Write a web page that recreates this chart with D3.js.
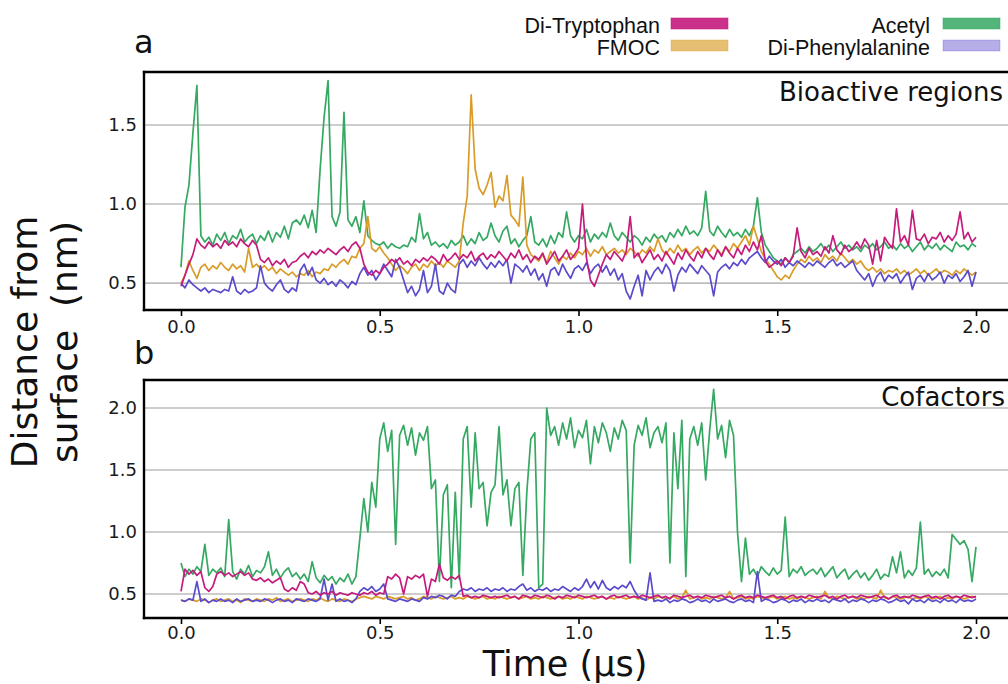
<!DOCTYPE html>
<html>
<head>
<meta charset="utf-8">
<script src="https://cdn.jsdelivr.net/npm/d3@7"></script>
<style>
  body { margin: 0; background: #fff; }
  svg { display: block; }
</style>
</head>
<body>
<svg id="chart" width="1008" height="684"></svg>
<script>
// Sampling interval of the trajectories (µs)
const timeStep = 0.01;

// ---- Panel a: bioactive regions, distance from surface (nm) ----
const bioAcetyl = [
  0.60,0.98,1.12,1.45,1.75,0.80,0.76,0.79,0.74,0.81,
  0.77,0.82,0.75,0.80,0.78,0.84,0.76,0.79,0.81,0.75,
  0.80,0.77,0.83,0.76,0.82,0.79,0.86,0.78,0.88,0.90,
  0.87,0.93,0.85,0.96,0.82,1.22,1.55,1.78,0.92,0.86,
  0.95,1.58,0.90,0.86,0.92,0.82,1.02,0.80,0.77,0.75,
  0.74,0.76,0.72,0.75,0.73,0.72,0.74,0.73,0.79,0.76,
  0.94,0.78,0.82,0.74,0.76,0.73,0.75,0.72,0.77,0.74,
  0.76,0.80,0.74,0.78,0.75,0.82,0.77,0.79,0.88,0.80,
  0.76,0.83,0.86,0.75,0.78,0.73,0.77,0.80,0.92,0.76,
  0.74,0.78,0.73,0.80,0.75,0.82,0.79,0.95,0.80,0.76,
  0.80,0.78,0.84,0.76,0.81,0.78,0.82,0.79,0.88,0.80,
  0.77,0.82,0.79,0.76,0.80,0.78,0.74,0.79,0.76,0.81,
  0.78,0.80,0.76,0.82,0.79,0.84,0.80,0.86,0.81,0.83,
  0.80,0.85,1.08,0.83,0.80,0.86,0.82,0.79,0.84,0.80,
  0.82,0.79,0.84,0.80,0.86,1.04,0.82,0.74,0.70,0.66,
  0.64,0.62,0.66,0.63,0.68,0.70,0.72,0.69,0.73,0.70,
  0.72,0.75,0.71,0.74,0.70,0.73,0.76,0.72,0.74,0.71,
  0.73,0.70,0.74,0.72,0.75,0.71,0.73,0.76,0.72,0.74,
  0.71,0.75,0.72,0.74,0.70,0.73,0.76,0.71,0.74,0.72,
  0.75,0.71,0.74,0.72,0.70,0.76,0.73,0.74,0.71,0.75,0.73
];
const bioFmoc = [
  0.50,0.55,0.64,0.58,0.53,0.60,0.62,0.58,0.61,0.59,
  0.63,0.60,0.58,0.62,0.59,0.61,0.57,0.72,0.60,0.62,
  0.59,0.61,0.58,0.60,0.56,0.59,0.57,0.55,0.57,0.54,
  0.56,0.55,0.58,0.54,0.57,0.56,0.59,0.58,0.62,0.60,
  0.63,0.65,0.62,0.67,0.66,0.72,0.75,0.92,0.72,0.70,
  0.73,0.69,0.66,0.62,0.58,0.61,0.59,0.56,0.60,0.62,
  0.58,0.62,0.60,0.64,0.61,0.63,0.60,0.64,0.62,0.60,
  0.64,0.88,1.05,1.69,1.22,1.10,1.06,1.12,1.20,0.98,
  1.05,1.02,1.18,0.93,0.90,0.86,1.17,0.74,0.68,0.66,
  0.64,0.68,0.63,0.70,0.66,0.62,0.67,0.65,0.69,0.66,
  0.70,0.68,0.72,0.67,0.71,0.69,0.73,0.68,0.70,0.72,
  0.69,0.71,0.68,0.72,0.70,0.67,0.71,0.69,0.73,0.70,
  0.78,0.71,0.68,0.72,0.69,0.74,0.70,0.72,0.68,0.71,
  0.73,0.69,0.72,0.70,0.74,0.71,0.68,0.73,0.70,0.75,
  0.72,0.76,0.80,0.74,0.86,0.78,0.70,0.65,0.62,0.58,
  0.54,0.52,0.55,0.53,0.58,0.62,0.65,0.63,0.67,0.64,
  0.66,0.63,0.68,0.65,0.67,0.64,0.69,0.66,0.63,0.65,
  0.62,0.64,0.60,0.58,0.60,0.57,0.59,0.56,0.58,0.57,
  0.59,0.56,0.58,0.55,0.57,0.59,0.56,0.58,0.55,0.57,
  0.59,0.56,0.58,0.57,0.55,0.58,0.56,0.59,0.57,0.55,0.57
];
const bioPhe = [
  0.50,0.47,0.52,0.49,0.47,0.45,0.47,0.44,0.46,0.45,
  0.44,0.46,0.45,0.54,0.45,0.43,0.46,0.44,0.45,0.47,
  0.61,0.50,0.47,0.45,0.49,0.52,0.46,0.44,0.47,0.45,
  0.58,0.62,0.55,0.60,0.52,0.50,0.53,0.49,0.51,0.48,
  0.52,0.50,0.47,0.51,0.49,0.56,0.60,0.55,0.58,0.52,
  0.56,0.62,0.58,0.54,0.65,0.60,0.52,0.44,0.48,0.42,
  0.46,0.58,0.44,0.48,0.62,0.45,0.43,0.50,0.46,0.44,
  0.62,0.65,0.60,0.64,0.61,0.66,0.62,0.59,0.63,0.60,
  0.64,0.61,0.65,0.50,0.62,0.60,0.57,0.61,0.55,0.59,
  0.52,0.56,0.48,0.58,0.60,0.55,0.62,0.57,0.53,0.59,
  0.61,0.58,0.63,0.56,0.60,0.62,0.57,0.61,0.55,0.59,
  0.52,0.56,0.45,0.40,0.48,0.55,0.42,0.58,0.52,0.57,
  0.60,0.56,0.62,0.58,0.45,0.55,0.60,0.57,0.62,0.59,
  0.56,0.61,0.58,0.55,0.42,0.57,0.60,0.62,0.59,0.63,
  0.61,0.65,0.62,0.66,0.68,0.70,0.66,0.63,0.67,0.64,
  0.62,0.65,0.60,0.63,0.61,0.64,0.62,0.60,0.63,0.61,
  0.64,0.62,0.60,0.63,0.65,0.61,0.63,0.60,0.62,0.64,
  0.58,0.55,0.52,0.56,0.48,0.54,0.57,0.51,0.55,0.53,
  0.56,0.50,0.54,0.57,0.46,0.53,0.55,0.51,0.56,0.52,
  0.54,0.57,0.50,0.55,0.53,0.56,0.51,0.54,0.58,0.48,0.57
];
const bioTrp = [
  0.48,0.55,0.62,0.68,0.78,0.74,0.72,0.76,0.73,0.75,
  0.72,0.77,0.74,0.76,0.73,0.78,0.75,0.73,0.77,0.74,
  0.65,0.63,0.66,0.61,0.64,0.62,0.65,0.60,0.63,0.64,
  0.67,0.69,0.66,0.70,0.68,0.71,0.69,0.72,0.70,0.68,
  0.71,0.73,0.70,0.74,0.76,0.72,0.62,0.57,0.55,0.58,
  0.56,0.60,0.62,0.65,0.63,0.66,0.62,0.64,0.61,0.65,
  0.63,0.66,0.64,0.67,0.65,0.62,0.68,0.64,0.66,0.69,
  0.65,0.68,0.66,0.70,0.64,0.67,0.69,0.65,0.68,0.66,
  0.70,0.67,0.64,0.69,0.66,0.71,0.65,0.68,0.63,0.67,
  0.65,0.69,0.62,0.66,0.70,0.64,0.67,0.71,0.65,0.68,
  0.72,1.00,0.66,0.52,0.48,0.55,0.62,0.68,0.65,0.70,
  0.67,0.64,0.70,0.92,0.66,0.69,0.63,0.67,0.71,0.65,
  0.68,0.64,0.70,0.66,0.62,0.69,0.65,0.71,0.67,0.64,
  0.70,0.66,0.72,0.68,0.65,0.71,0.67,0.73,0.69,0.66,
  0.72,0.68,0.74,0.70,0.76,0.71,0.80,0.64,0.60,0.62,
  0.64,0.61,0.66,0.63,0.67,0.85,0.70,0.66,0.72,0.68,
  0.70,0.67,0.73,0.69,0.80,0.71,0.68,0.74,0.70,0.72,
  0.76,0.72,0.78,0.74,0.62,0.77,0.64,0.79,0.75,0.72,
  0.97,0.76,0.80,0.74,0.96,0.78,0.77,0.81,0.75,0.79,
  0.78,0.82,0.76,0.80,0.77,0.81,0.95,0.78,0.82,0.76,0.79
];

// ---- Panel b: cofactors, distance from surface (nm) ----
const cofAcetyl = [
  0.75,0.64,0.70,0.66,0.72,0.68,0.90,0.65,0.70,0.67,
  0.71,0.64,1.10,0.68,0.62,0.70,0.66,0.73,0.64,0.69,
  0.67,0.72,0.84,0.65,0.70,0.63,0.68,0.71,0.64,0.67,
  0.62,0.66,0.60,0.76,0.63,0.59,0.65,0.61,0.64,0.58,
  0.63,0.60,0.66,0.58,0.64,0.95,1.27,1.00,1.40,1.20,
  1.75,1.88,1.65,1.82,0.90,1.78,1.86,1.70,1.84,1.62,
  1.80,1.74,1.85,1.35,1.42,0.60,1.30,1.38,0.55,1.32,
  0.62,1.75,1.85,1.20,1.80,1.35,1.40,1.05,1.32,1.38,
  1.85,1.30,1.42,1.05,1.35,1.40,0.65,1.32,1.75,1.80,
  0.55,0.58,2.00,1.78,1.85,1.70,1.88,1.75,1.92,1.68,
  1.82,1.76,1.90,1.55,1.85,1.72,1.88,1.80,1.65,1.84,
  1.75,1.90,1.82,0.75,1.70,1.86,1.78,1.92,1.68,1.80,
  1.85,1.72,1.88,0.75,1.80,1.35,1.90,0.64,1.75,1.85,
  1.70,1.88,1.42,1.82,2.15,1.75,1.86,1.60,1.90,1.78,
  1.00,0.60,0.95,0.66,0.70,0.64,0.72,0.68,0.65,0.71,
  0.66,0.69,1.12,0.64,0.70,0.67,0.72,0.65,0.68,0.70,
  0.66,0.71,0.64,0.68,0.72,0.63,0.67,0.70,0.62,0.66,
  0.69,0.63,0.67,0.61,0.65,0.70,0.62,0.66,0.64,0.80,
  0.67,0.84,0.63,0.69,0.65,0.71,1.08,0.66,0.70,0.64,
  0.68,0.65,0.70,0.63,0.98,0.94,0.90,0.93,0.86,0.60,0.88
];
const cofFmoc = [
  0.45,0.44,0.46,0.45,0.44,0.46,0.45,0.43,0.45,0.46,
  0.44,0.45,0.46,0.44,0.45,0.43,0.46,0.45,0.44,0.46,
  0.45,0.44,0.46,0.45,0.47,0.44,0.45,0.46,0.44,0.45,
  0.46,0.45,0.44,0.46,0.45,0.47,0.45,0.44,0.46,0.45,
  0.44,0.46,0.45,0.44,0.46,0.47,0.48,0.47,0.46,0.48,
  0.47,0.46,0.48,0.47,0.46,0.47,0.48,0.46,0.47,0.45,
  0.46,0.48,0.47,0.46,0.48,0.47,0.46,0.47,0.48,0.46,
  0.47,0.46,0.48,0.47,0.46,0.47,0.48,0.46,0.47,0.46,
  0.48,0.47,0.46,0.47,0.48,0.46,0.47,0.48,0.46,0.47,
  0.46,0.48,0.47,0.46,0.47,0.48,0.46,0.47,0.46,0.48,
  0.47,0.46,0.48,0.47,0.46,0.47,0.48,0.46,0.47,0.46,
  0.48,0.47,0.46,0.47,0.48,0.46,0.47,0.45,0.47,0.46,
  0.48,0.47,0.46,0.47,0.48,0.46,0.47,0.53,0.46,0.47,
  0.48,0.46,0.47,0.46,0.48,0.47,0.46,0.47,0.52,0.46,
  0.47,0.48,0.46,0.47,0.46,0.48,0.47,0.46,0.47,0.48,
  0.46,0.47,0.48,0.46,0.47,0.46,0.48,0.47,0.46,0.47,
  0.48,0.46,0.52,0.47,0.46,0.48,0.47,0.46,0.47,0.48,
  0.46,0.47,0.46,0.48,0.47,0.46,0.53,0.47,0.46,0.48,
  0.47,0.46,0.47,0.48,0.46,0.47,0.46,0.48,0.47,0.46,
  0.47,0.48,0.46,0.47,0.46,0.48,0.47,0.46,0.47,0.48,0.47
];
const cofPhe = [
  0.45,0.44,0.46,0.45,0.60,0.44,0.46,0.43,0.45,0.44,
  0.46,0.44,0.45,0.43,0.46,0.44,0.45,0.46,0.44,0.45,
  0.44,0.46,0.45,0.43,0.45,0.46,0.44,0.45,0.43,0.46,
  0.45,0.44,0.46,0.45,0.44,0.46,0.62,0.45,0.58,0.44,
  0.46,0.44,0.45,0.43,0.46,0.52,0.55,0.53,0.56,0.52,
  0.54,0.58,0.46,0.45,0.44,0.46,0.45,0.44,0.46,0.45,
  0.44,0.47,0.46,0.48,0.47,0.49,0.48,0.46,0.49,0.48,
  0.52,0.54,0.53,0.55,0.52,0.54,0.53,0.55,0.52,0.54,
  0.53,0.55,0.52,0.54,0.53,0.56,0.58,0.53,0.55,0.52,
  0.54,0.53,0.55,0.52,0.54,0.53,0.56,0.54,0.52,0.55,
  0.53,0.56,0.62,0.55,0.60,0.54,0.61,0.55,0.53,0.56,
  0.54,0.57,0.55,0.60,0.53,0.48,0.46,0.45,0.67,0.44,
  0.45,0.44,0.46,0.43,0.45,0.44,0.46,0.45,0.43,0.44,
  0.46,0.44,0.45,0.43,0.46,0.44,0.45,0.46,0.44,0.43,
  0.45,0.46,0.44,0.45,0.43,0.68,0.44,0.46,0.45,0.43,
  0.44,0.46,0.45,0.43,0.45,0.44,0.46,0.43,0.45,0.44,
  0.46,0.44,0.45,0.43,0.46,0.45,0.44,0.46,0.43,0.45,
  0.44,0.46,0.45,0.43,0.45,0.44,0.46,0.45,0.43,0.44,
  0.46,0.44,0.45,0.42,0.46,0.44,0.45,0.43,0.46,0.44,
  0.45,0.43,0.46,0.44,0.45,0.43,0.46,0.44,0.45,0.44,0.46
];
const cofTrp = [
  0.52,0.70,0.66,0.69,0.65,0.68,0.55,0.52,0.56,0.66,
  0.68,0.65,0.67,0.64,0.66,0.68,0.65,0.67,0.62,0.61,
  0.63,0.60,0.62,0.59,0.61,0.63,0.54,0.52,0.55,0.53,
  0.60,0.58,0.51,0.50,0.52,0.49,0.51,0.50,0.52,0.49,
  0.51,0.50,0.49,0.51,0.50,0.49,0.51,0.50,0.52,0.49,
  0.51,0.50,0.64,0.62,0.66,0.63,0.50,0.64,0.62,0.65,
  0.63,0.66,0.48,0.62,0.60,0.74,0.63,0.61,0.64,0.62,
  0.65,0.48,0.49,0.47,0.48,0.47,0.49,0.48,0.47,0.48,
  0.47,0.48,0.49,0.47,0.48,0.46,0.49,0.48,0.47,0.49,
  0.48,0.47,0.49,0.48,0.46,0.48,0.47,0.49,0.48,0.47,
  0.49,0.48,0.47,0.48,0.49,0.47,0.48,0.46,0.48,0.49,
  0.47,0.48,0.49,0.47,0.48,0.47,0.49,0.48,0.47,0.48,
  0.49,0.47,0.48,0.46,0.49,0.48,0.47,0.48,0.49,0.47,
  0.48,0.47,0.49,0.48,0.47,0.48,0.49,0.47,0.48,0.46,
  0.48,0.49,0.47,0.48,0.47,0.49,0.48,0.47,0.48,0.49,
  0.47,0.48,0.46,0.48,0.49,0.47,0.48,0.47,0.49,0.48,
  0.47,0.48,0.49,0.47,0.48,0.46,0.48,0.49,0.47,0.48,
  0.47,0.49,0.48,0.47,0.48,0.49,0.47,0.48,0.46,0.48,
  0.49,0.47,0.48,0.47,0.49,0.48,0.47,0.48,0.49,0.47,
  0.48,0.46,0.48,0.49,0.47,0.48,0.47,0.49,0.48,0.47,0.48
];

// ---- Categories, colours and ticks ----
const groups = ["Di-Tryptophan", "FMOC", "Acetyl", "Di-Phenylalanine"];
const lineColors = {
  "Di-Tryptophan": "#c51b7d",
  "FMOC": "#da9c28",
  "Acetyl": "#35a862",
  "Di-Phenylalanine": "#5a4bcc"
};
const swatchOpacity = { "Di-Tryptophan": 0.9, "FMOC": 0.65, "Acetyl": 0.85, "Di-Phenylalanine": 0.45 };
const drawOrder = ["Acetyl", "FMOC", "Di-Phenylalanine", "Di-Tryptophan"];
const timeTicks = [0.0, 0.5, 1.0, 1.5, 2.0];
const bioTicks = [0.5, 1.0, 1.5];
const cofTicks = [0.5, 1.0, 1.5, 2.0];

const panels = [
  { letter: "a", title: "Bioactive regions", top: 72, bottom: 310, yDomain: [0.33, 1.835], yTicks: bioTicks,
    data: { "Di-Tryptophan": bioTrp, "FMOC": bioFmoc, "Acetyl": bioAcetyl, "Di-Phenylalanine": bioPhe },
    letterY: 53, titleX: 1003, titleY: 101, tickPad: 4 },
  { letter: "b", title: "Cofactors", top: 380, bottom: 618, yDomain: [0.306, 2.226], yTicks: cofTicks,
    data: { "Di-Tryptophan": cofTrp, "FMOC": cofFmoc, "Acetyl": cofAcetyl, "Di-Phenylalanine": cofPhe },
    letterY: 364, titleX: 1005, titleY: 406, tickPad: 2.5 }
];

const svg = d3.select("#chart");
const frameLeft = 144, frameRight = 1012;
const x = d3.scaleLinear().domain([0, 2]).range([181, 976]);
const sansFont = "'DejaVu Sans', sans-serif";

panels.forEach((p, pi) => {
  const y = d3.scaleLinear().domain(p.yDomain).range([p.bottom, p.top]);
  const g = svg.append("g");

  g.append("clipPath").attr("id", "clip" + pi)
    .append("rect").attr("x", frameLeft).attr("y", p.top)
    .attr("width", frameRight - frameLeft).attr("height", p.bottom - p.top);

  // horizontal grid
  g.append("g").selectAll("line").data(p.yTicks).join("line")
    .attr("x1", frameLeft).attr("x2", frameRight)
    .attr("y1", d => y(d)).attr("y2", d => y(d))
    .attr("stroke", "#bdbdbd").attr("stroke-width", 1.6);

  // traces
  const line = d3.line().x((d, i) => x(i * timeStep)).y(d => y(d));
  const traces = g.append("g").attr("clip-path", `url(#clip${pi})`);
  drawOrder.forEach(name => {
    traces.append("path").datum(p.data[name])
      .attr("d", line).attr("fill", "none")
      .attr("stroke", lineColors[name]).attr("stroke-width", 1.7)
      .attr("stroke-linejoin", "round");
  });

  // x axis
  const xAxis = g.append("g").attr("transform", `translate(0,${p.bottom})`)
    .call(d3.axisBottom(x).tickValues(timeTicks).tickFormat(d3.format(".1f")).tickSize(6).tickPadding(p.tickPad));
  xAxis.select(".domain").remove();
  xAxis.selectAll(".tick line").attr("stroke", "#000").attr("stroke-width", 1.6);
  xAxis.selectAll(".tick text").attr("fill", "#1a1a1a")
    .style("font-family", sansFont).style("font-size", "18px");

  // y axis labels
  const yAxis = g.append("g").attr("transform", `translate(${frameLeft},0)`)
    .call(d3.axisLeft(y).tickValues(p.yTicks).tickFormat(d3.format(".1f")).tickSize(0).tickPadding(7));
  yAxis.select(".domain").remove();
  yAxis.selectAll(".tick text").attr("fill", "#1a1a1a")
    .style("font-family", sansFont).style("font-size", "18px");

  // frame: top, left, bottom
  const frame = [
    [frameLeft, p.top, frameRight, p.top],
    [frameLeft, p.top, frameLeft, p.bottom],
    [frameLeft, p.bottom, frameRight, p.bottom]
  ];
  g.append("g").selectAll("line").data(frame).join("line")
    .attr("x1", d => d[0]).attr("y1", d => d[1]).attr("x2", d => d[2]).attr("y2", d => d[3])
    .attr("stroke", "#000").attr("stroke-width", 2.4).attr("stroke-linecap", "square");

  // panel title and letter
  g.append("text").attr("x", p.titleX).attr("y", p.titleY).attr("text-anchor", "end")
    .style("font-family", sansFont).style("font-size", "26px").attr("fill", "#111")
    .text(p.title);
  g.append("text").attr("x", 134).attr("y", p.letterY)
    .style("font-family", sansFont).style("font-size", "32px").attr("fill", "#111")
    .text(p.letter);
});

// axis titles
const yTitle = svg.append("text")
  .attr("transform", "translate(37,342) rotate(-90)")
  .attr("text-anchor", "middle")
  .style("font-family", sansFont).style("font-size", "36px").attr("fill", "#111");
yTitle.append("tspan").attr("x", 0).attr("dy", 0).text("Distance from");
yTitle.append("tspan").attr("x", 0).attr("dy", 40).style("white-space", "pre").text("surface  (nm)");

svg.append("text").attr("x", 565).attr("y", 676).attr("text-anchor", "middle")
  .style("font-family", sansFont).style("font-size", "35px").attr("fill", "#111")
  .text("Time (µs)");

// legend: two columns of two entries
const legendLayout = [
  { name: "Di-Tryptophan", tx: 660, ty: 33, sx: 671, sy: 18 },
  { name: "FMOC", tx: 660, ty: 55, sx: 671, sy: 40 },
  { name: "Acetyl", tx: 930, ty: 33, sx: 943, sy: 18 },
  { name: "Di-Phenylalanine", tx: 930, ty: 55, sx: 943, sy: 40 }
];
const legend = svg.append("g").selectAll("g").data(legendLayout).join("g");
legend.append("text").attr("x", d => d.tx).attr("y", d => d.ty).attr("text-anchor", "end")
  .style("font-family", "'Liberation Sans', Arial, sans-serif").style("font-size", "21.5px").attr("fill", "#111")
  .text(d => d.name);
legend.append("rect").attr("x", d => d.sx).attr("y", d => d.sy).attr("width", 57).attr("height", 11)
  .attr("fill", d => lineColors[d.name]).attr("fill-opacity", d => swatchOpacity[d.name])
  .attr("stroke", d => lineColors[d.name]).attr("stroke-opacity", d => swatchOpacity[d.name] * 0.6)
  .attr("stroke-width", 1);
</script>
</body>
</html>
